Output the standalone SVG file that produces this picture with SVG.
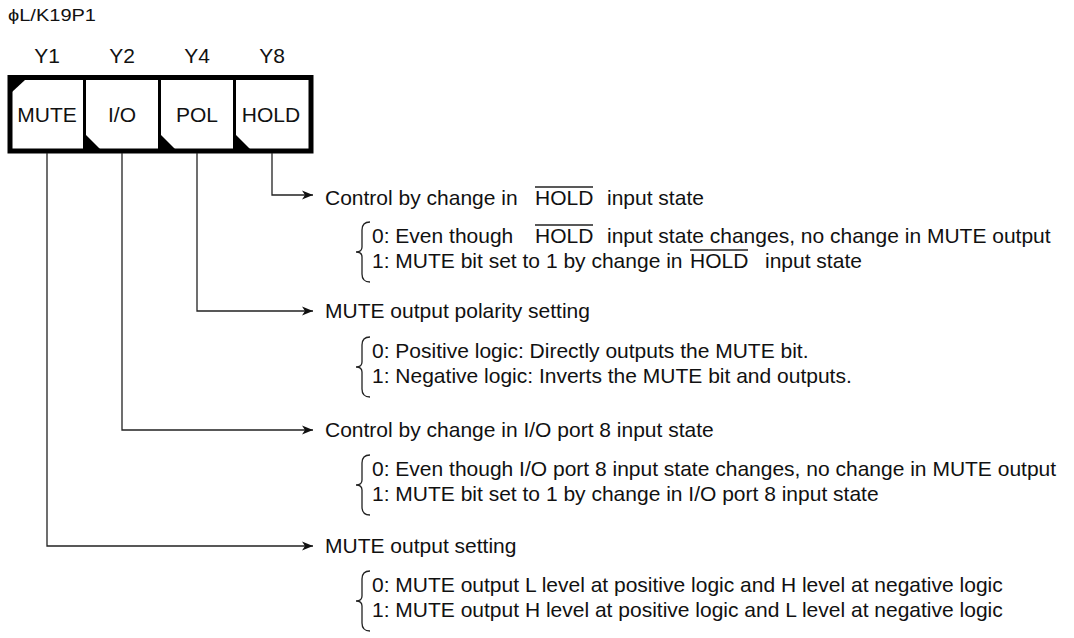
<svg xmlns="http://www.w3.org/2000/svg" width="1074" height="638" viewBox="0 0 1074 638">
<style>
text{font-family:"Liberation Sans",Arial,sans-serif;fill:#111}
.t{font-size:21px}
.title{font-size:17px}
.cell{font-size:21px;text-anchor:middle}
.conn{fill:none;stroke:#222;stroke-width:1.3}
.brace{fill:none;stroke:#222;stroke-width:1.3}
.ov{stroke:#222;stroke-width:1.3}
</style>
<defs>
<marker id="ah" markerWidth="12" markerHeight="10" refX="11" refY="5" orient="auto" markerUnits="userSpaceOnUse">
<path d="M0,0.5 L11,5 L0,9.5 L3,5 Z" fill="#111"/>
</marker>
</defs>
<rect width="1074" height="638" fill="#fff"/>
<text class="title" x="8" y="21" textLength="88" lengthAdjust="spacingAndGlyphs">ϕL/K19P1</text>
<g id="register">
<text class="cell" x="47" y="63">Y1</text>
<text class="cell" x="122" y="63">Y2</text>
<text class="cell" x="197" y="63">Y4</text>
<text class="cell" x="272" y="63">Y8</text>
<rect x="10" y="77.5" width="301" height="73.5" fill="#fff" stroke="#000" stroke-width="5"/>
<line x1="84.5" y1="78" x2="84.5" y2="150" stroke="#000" stroke-width="3"/>
<line x1="159.5" y1="78" x2="159.5" y2="150" stroke="#000" stroke-width="3"/>
<line x1="234.5" y1="78" x2="234.5" y2="150" stroke="#000" stroke-width="3"/>
<polygon points="12,80 25,80 12,92" fill="#000"/>
<polygon points="86,135 86,149 100,149" fill="#000"/>
<polygon points="161,135 161,149 175,149" fill="#000"/>
<polygon points="236,135 236,149 250,149" fill="#000"/>
</g>
<g id="cell-mute"><text class="cell" x="47" y="122">MUTE</text></g>
<g id="cell-io"><text class="cell" x="122" y="122">I/O</text></g>
<g id="cell-pol"><text class="cell" x="197" y="122">POL</text></g>
<g id="cell-hold"><text class="cell" x="271" y="122">HOLD</text></g>
<g id="connectors">
<path class="conn" d="M272,153 V195 H313" marker-end="url(#ah)"/>
<path class="conn" d="M197,153 V311 H313" marker-end="url(#ah)"/>
<path class="conn" d="M122,153 V430 H313" marker-end="url(#ah)"/>
<path class="conn" d="M47,153 V546 H313" marker-end="url(#ah)"/>
</g>
<g id="hold-desc">
<text class="t" x="325" y="205">Control by change in</text>
<text class="t" x="535" y="205">HOLD</text>
<line class="ov" x1="535" y1="187" x2="593" y2="187"/>
<text class="t" x="607" y="205">input state</text>
<path class="brace" d="M370,222 Q362,222 362,230 V247 Q362,252 356,252 Q362,252 362,257 V274 Q362,282 370,282"/>
<text class="t" x="372" y="243">0: Even though</text>
<text class="t" x="535" y="243">HOLD</text>
<line class="ov" x1="535" y1="225" x2="593" y2="225"/>
<text class="t" x="607" y="243">input state changes, no change in MUTE output</text>
<text class="t" x="372" y="268">1: MUTE bit set to 1 by change in</text>
<text class="t" x="690" y="268">HOLD</text>
<line class="ov" x1="690" y1="250" x2="748" y2="250"/>
<text class="t" x="765" y="268">input state</text>
</g>
<g id="pol-desc">
<text class="t" x="325" y="318">MUTE output polarity setting</text>
<path class="brace" d="M370,337 Q362,337 362,345 V362 Q362,367 356,367 Q362,367 362,372 V389 Q362,397 370,397"/>
<text class="t" x="372" y="358">0: Positive logic: Directly outputs the MUTE bit.</text>
<text class="t" x="372" y="383">1: Negative logic: Inverts the MUTE bit and outputs.</text>
</g>
<g id="io-desc">
<text class="t" x="325" y="437">Control by change in I/O port 8 input state</text>
<path class="brace" d="M370,455 Q362,455 362,463 V480 Q362,485 356,485 Q362,485 362,490 V507 Q362,515 370,515"/>
<text class="t" x="372" y="476">0: Even though I/O port 8 input state changes, no change in MUTE output</text>
<text class="t" x="372" y="501">1: MUTE bit set to 1 by change in I/O port 8 input state</text>
</g>
<g id="mute-desc">
<text class="t" x="325" y="553">MUTE output setting</text>
<path class="brace" d="M370,571 Q362,571 362,579 V596 Q362,601 356,601 Q362,601 362,606 V623 Q362,631 370,631"/>
<text class="t" x="372" y="592">0: MUTE output L level at positive logic and H level at negative logic</text>
<text class="t" x="372" y="617">1: MUTE output H level at positive logic and L level at negative logic</text>
</g>
</svg>
